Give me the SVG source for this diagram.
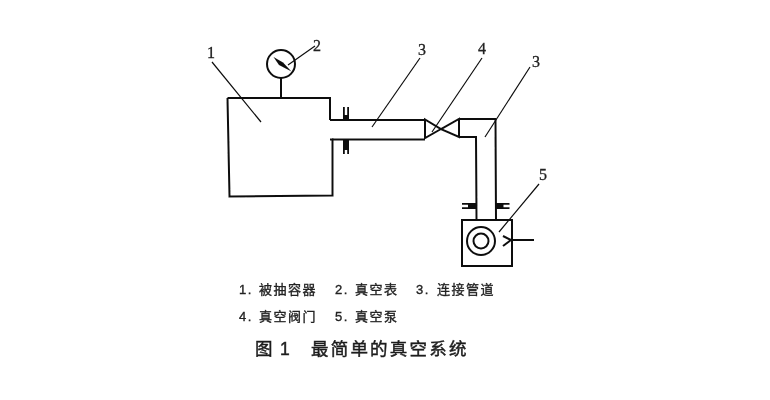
<svg xmlns="http://www.w3.org/2000/svg" width="770" height="400" viewBox="0 0 770 400">
<style>
.l{fill:none;stroke:#111;stroke-width:2;stroke-linejoin:miter}
.t{fill:none;stroke:#111;stroke-width:1.200}
.c{fill:#111;stroke:none}
.n{font-family:"Liberation Serif",serif;font-size:16px;fill:#222;stroke:#222;stroke-width:.3}
.k{font-family:"Liberation Sans","Noto Sans CJK SC",sans-serif;font-size:13px;letter-spacing:1.5px;fill:#222;stroke:#222;stroke-width:.35}
.h{font-family:"Liberation Sans","Noto Sans CJK SC",sans-serif;font-size:17.500px;letter-spacing:2.200px;fill:#1c1c1c;stroke:#1c1c1c;stroke-width:.45}
</style>
<defs><filter id="soft" x="-5%" y="-5%" width="110%" height="110%"><feGaussianBlur stdDeviation="0.35"/></filter></defs>
<rect width="770" height="400" fill="#fff"/>
<g filter="url(#soft)">
<g id="connectors">
<path class="l" d="M330 120H425M332 139.500H425"/>
<path class="l" d="M459 119H495.500L496 220M459 137H476L476.500 219"/>
<path class="t" d="M212 62L261 122M315 46L288 65M420 58L372 127M482 58L432 132M530 67L485 137M539 184L499 232"/>
</g>
<g id="node-1"><path class="l" d="M227.500 98H330V120M330 139.500L332.500 139.500V195.500L229.500 196.500L227.500 98"/>
<path class="c" d="M343 107h1.800v8h2.400v-8h1.800v13h-6zM343 140h6v14h-1.800v-4h-2.400v4h-1.800z"/>
<text class="n" x="207" y="58">1</text></g>
<g id="node-2"><circle class="l" cx="281" cy="64" r="14"/><path class="l" d="M281 78V98"/>
<path class="c" d="M273.500 57L283 62.500L291.500 71.500L279 65z"/>
<text class="n" x="313" y="51">2</text></g>
<text class="n" x="418" y="55">3</text>
<g id="node-4"><path class="l" d="M425 119.500V138L441 129L459 137V119L441 129z"/>
<text class="n" x="478" y="54">4</text></g>
<text class="n" x="532" y="67">3</text>
<g id="node-5"><rect class="l" x="462" y="220" width="50" height="46"/>
<circle class="l" cx="481" cy="241" r="14"/><circle class="l" cx="481" cy="241" r="7.500"/>
<path class="l" d="M503 236L511 240L503 246M511 240H534"/>
<path class="c" d="M462 203h14v6h-14v-1.800h6v-2.400h-6zM495.500 203h14v1.800h-6v2.400h6v1.800h-14z"/>
<text class="n" x="539" y="180">5</text></g>
<text class="k" x="239" y="294">1.</text><text class="k" x="259" y="294">被抽容器</text>
<text class="k" x="335" y="294">2.</text><text class="k" x="355" y="294">真空表</text>
<text class="k" x="416" y="294">3.</text><text class="k" x="437" y="294">连接管道</text>
<text class="k" x="239" y="321">4.</text><text class="k" x="259" y="321">真空阀门</text>
<text class="k" x="335" y="321">5.</text><text class="k" x="355" y="321">真空泵</text>
<text class="h" x="255" y="355">图</text><text class="h" x="280" y="355">1</text><text class="h" x="311" y="355">最简单的真空系统</text>
</g>
</svg>
